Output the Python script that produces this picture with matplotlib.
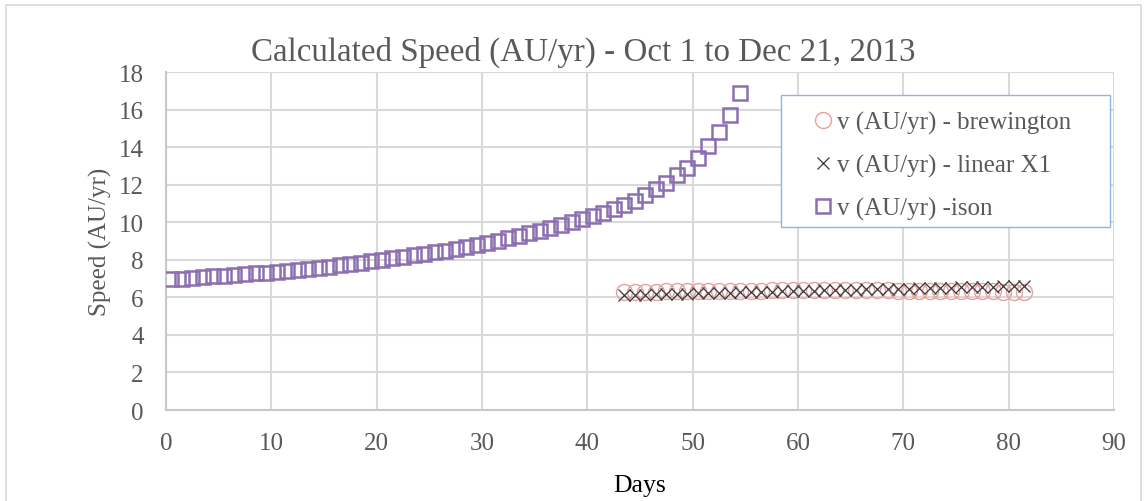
import matplotlib.pyplot as plt
from matplotlib.patches import Rectangle

plt.rcParams['font.family'] = ['Liberation Serif', 'DejaVu Serif']

# ── Data ────────────────────────────────────────────────────
ison_days = [0.5, 1.5, 2.5, 3.5, 4.5, 5.5, 6.5, 7.5, 8.5, 9.5,
             10.5, 11.5, 12.5, 13.5, 14.5, 15.5, 16.5, 17.5, 18.5, 19.5,
             20.5, 21.5, 22.5, 23.5, 24.5, 25.5, 26.5, 27.5, 28.5, 29.5,
             30.5, 31.5, 32.5, 33.5, 34.5, 35.5, 36.5, 37.5, 38.5, 39.5,
             40.5, 41.5, 42.5, 43.5, 44.5, 45.5, 46.5, 47.5, 48.5, 49.5,
             50.5, 51.5, 52.5, 53.5, 54.5]
ison_speed = [6.97, 7.00, 7.04, 7.07, 7.11, 7.14, 7.18, 7.22, 7.27, 7.31,
              7.36, 7.41, 7.46, 7.52, 7.58, 7.64, 7.70, 7.77, 7.84, 7.92,
              8.00, 8.07, 8.15, 8.23, 8.31, 8.40, 8.49, 8.59, 8.69, 8.80,
              8.91, 9.02, 9.14, 9.27, 9.40, 9.54, 9.69, 9.84, 10.00, 10.15,
              10.32, 10.50, 10.70, 10.90, 11.15, 11.45, 11.75, 12.10, 12.50, 12.90,
              13.40, 14.05, 14.80, 15.70, 16.87]

late_days = [43.5, 44.5, 45.5, 46.5, 47.5, 48.5, 49.5, 50.5, 51.5, 52.5,
             53.5, 54.5, 55.5, 56.5, 57.5, 58.5, 59.5, 60.5, 61.5, 62.5,
             63.5, 64.5, 65.5, 66.5, 67.5, 68.5, 69.5, 70.5, 71.5, 72.5,
             73.5, 74.5, 75.5, 76.5, 77.5, 78.5, 79.5, 80.5, 81.5]
brewington = [6.30, 6.30, 6.31, 6.31, 6.32, 6.32, 6.33, 6.33, 6.34, 6.34,
              6.35, 6.35, 6.36, 6.36, 6.37, 6.37, 6.37, 6.38, 6.38, 6.38,
              6.38, 6.38, 6.38, 6.37, 6.37, 6.37, 6.36, 6.36, 6.35, 6.35,
              6.34, 6.34, 6.33, 6.33, 6.32, 6.32, 6.31, 6.31, 6.30]
linear_x1 = [6.13, 6.14, 6.15, 6.17, 6.18, 6.19, 6.20, 6.22, 6.23, 6.24,
             6.25, 6.27, 6.28, 6.29, 6.30, 6.32, 6.33, 6.34, 6.35, 6.37,
             6.38, 6.39, 6.40, 6.42, 6.43, 6.44, 6.45, 6.47, 6.48, 6.49,
             6.50, 6.52, 6.53, 6.54, 6.55, 6.57, 6.58, 6.59, 6.60]

x_ticks = [0, 10, 20, 30, 40, 50, 60, 70, 80, 90]
y_ticks = [0, 2, 4, 6, 8, 10, 12, 14, 16, 18]

TXT = "#595959"
GRID = "#D9D9D9"
W, H = 1145, 502

fig = plt.figure(figsize=(11.45, 5.02), dpi=100)
fig.patch.set_facecolor("white")
# thin chart-area frame, like the Excel chart border
fig.patches.append(Rectangle((6 / W, -0.05), 1135 / W, 1.05 - 6 / H,
                             transform=fig.transFigure, fill=False,
                             edgecolor=GRID, linewidth=1.2))

ax = fig.add_axes([166 / W, 1 - 411 / H, 948 / W, 338 / H])

ax.plot(late_days, brewington, linestyle="none", marker="o", markersize=11.5,
        markerfacecolor="none", markeredgecolor="#E6A19C", markeredgewidth=1.0,
        label="v (AU/yr) - brewington", zorder=3)
ax.plot(late_days, linear_x1, linestyle="none", marker="x", markersize=9,
        markeredgecolor="#3A3A3A", markeredgewidth=0.9,
        label="v (AU/yr) - linear X1", zorder=4)
ax.plot(ison_days, ison_speed, linestyle="none", marker="s", markersize=10,
        markerfacecolor="none", markeredgecolor="#8C6FB0", markeredgewidth=1.8,
        label="v (AU/yr) -ison", zorder=5)

ax.set_xlim(0, 90)
ax.set_ylim(0, 18)
ax.set_xticks(x_ticks)
ax.set_yticks(y_ticks)
ax.grid(True, color=GRID, linewidth=1.5)
ax.set_axisbelow(True)
for s in ["top", "right"]:
    ax.spines[s].set_visible(False)
for s in ["left", "bottom"]:
    ax.spines[s].set_color("#C8C8C8")
    ax.spines[s].set_linewidth(1.5)
ax.tick_params(length=0, labelsize=18, colors=TXT, pad=16)

fig.text(583 / W, 1 - 52 / H,
         "Calculated Speed (AU/yr) - Oct 1 to Dec 21, 2013",
         fontsize=23.8, color=TXT, ha="center", va="center")
ax.set_xlabel("Days", fontsize=18.5, color="black", labelpad=14)
ax.set_ylabel("Speed (AU/yr)", fontsize=18, color=TXT, labelpad=5)

# legend box drawn separately (wider side padding than top/bottom)
ax.add_patch(Rectangle((781 / W, 1 - 228 / H), 329 / W, 132 / H,
                       transform=fig.transFigure, facecolor="white",
                       edgecolor="#8EB4E3", linewidth=1.0, zorder=6,
                       clip_on=False))
leg = ax.legend(loc="upper left", bbox_to_anchor=(813 / W, 1 - 112 / H),
                bbox_transform=fig.transFigure, frameon=False,
                fontsize=18, labelcolor=TXT,
                handlelength=0.8, handletextpad=0.15, borderpad=0,
                labelspacing=0.8, borderaxespad=0)
leg.set_zorder(7)

fig.savefig("out.png", dpi=100)
